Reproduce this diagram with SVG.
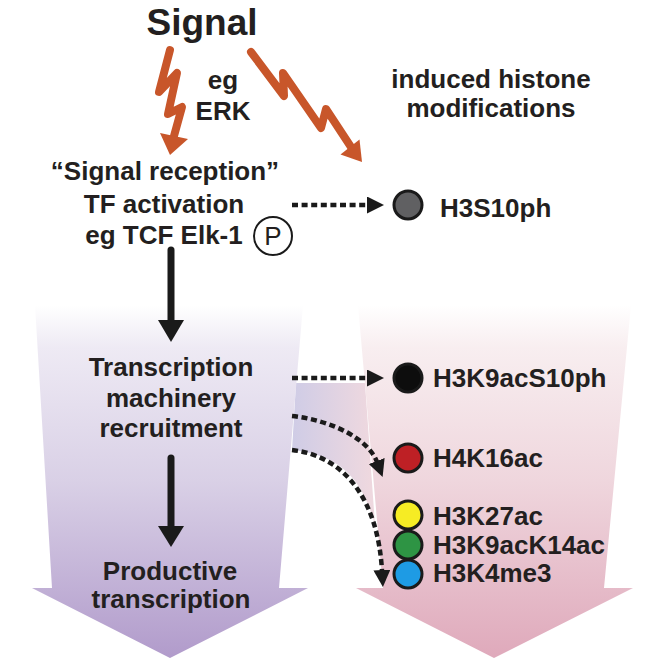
<svg xmlns="http://www.w3.org/2000/svg" width="664" height="664" viewBox="0 0 664 664">
<defs>
<style>
text{font-family:"Liberation Sans",Arial,sans-serif;font-weight:bold;fill:#231f20;}
.t26{font-size:26px;}
.mid{text-anchor:middle;}
.dash{fill:none;stroke:#1a1a1a;stroke-width:4.5;stroke-dasharray:6 3.6;}
.solid{fill:none;stroke:#1a1a1a;stroke-width:7;stroke-linecap:round;}
.bolt{fill:none;stroke:#c8562a;stroke-width:8;stroke-linejoin:round;stroke-linecap:round;}
.mod{stroke:#1a1a1a;stroke-width:3;}
</style>
<linearGradient id="gLeft" gradientUnits="userSpaceOnUse" x1="0" y1="305" x2="0" y2="658">
<stop offset="0" stop-color="#ffffff"/>
<stop offset="0.12" stop-color="#eeeaf4"/>
<stop offset="0.5" stop-color="#d9d0e6"/>
<stop offset="1" stop-color="#b19bcb"/>
</linearGradient>
<linearGradient id="gRight" gradientUnits="userSpaceOnUse" x1="0" y1="305" x2="0" y2="658">
<stop offset="0" stop-color="#ffffff"/>
<stop offset="0.12" stop-color="#f8eef0"/>
<stop offset="0.5" stop-color="#efd6dd"/>
<stop offset="1" stop-color="#dfa9bb"/>
</linearGradient>
<linearGradient id="gBand" gradientUnits="userSpaceOnUse" x1="292" y1="0" x2="370" y2="0">
<stop offset="0" stop-color="#cfcce6"/>
<stop offset="1" stop-color="#eed8df"/>
</linearGradient>
<marker id="ah" markerUnits="userSpaceOnUse" viewBox="0 0 17 17" refX="1" refY="8.5" markerWidth="17" markerHeight="17" orient="auto">
<path d="M0,0 L17,8.5 L0,17 Z" fill="#1a1a1a"/>
</marker>
</defs>

<g id="backgrounds">
<path d="M296,383 L365,383 L375,525 C362,478 340,455 292,450 Z" fill="url(#gBand)"/>
<polygon points="35,305 303,305 279,588 308,588 170,658 32,588 52,588" fill="url(#gLeft)"/>
<polygon points="358,305 631,305 604,588 633,588 494,658 356,588 383,588" fill="url(#gRight)"/>
</g>

<g id="signal">
<text x="202" y="35" class="mid" style="font-size:37px">Signal</text>
</g>

<g id="erk">
<text x="223" y="89" class="t26 mid">eg</text>
<text x="223" y="120" class="t26 mid">ERK</text>
</g>

<g id="induced-label">
<text x="491" y="88" class="t26 mid">induced histone</text>
<text x="491" y="117" class="t26 mid">modifications</text>
</g>

<g id="reception">
<text x="165" y="180" class="t26 mid">“Signal reception”</text>
<text x="164" y="213" class="t26 mid">TF activation</text>
<text x="164" y="244" class="t26 mid">eg TCF Elk-1</text>
<circle cx="273" cy="236" r="19" fill="#ffffff" stroke="#1a1a1a" stroke-width="2"/>
<text x="273" y="245" class="mid" style="font-size:26px;font-weight:normal">P</text>
</g>

<g id="recruitment">
<text x="171" y="376" class="t26 mid">Transcription</text>
<text x="171" y="407" class="t26 mid">machinery</text>
<text x="171" y="437" class="t26 mid">recruitment</text>
</g>

<g id="productive">
<text x="170" y="580" class="t26 mid">Productive</text>
<text x="171" y="608" class="t26 mid">transcription</text>
</g>

<g id="h3s10ph">
<circle cx="408" cy="205" r="14" fill="#606062" class="mod"/>
<text x="440" y="217" class="t26">H3S10ph</text>
</g>
<g id="h3k9acs10ph">
<circle cx="408" cy="378" r="14" fill="#0d0d0d" class="mod"/>
<text x="433" y="387" class="t26">H3K9acS10ph</text>
</g>
<g id="h4k16ac">
<circle cx="408" cy="458" r="14" fill="#be2025" class="mod"/>
<text x="433" y="467" class="t26">H4K16ac</text>
</g>
<g id="h3k27ac">
<circle cx="408" cy="515" r="14" fill="#f6ec24" class="mod"/>
<text x="433" y="525" class="t26">H3K27ac</text>
</g>
<g id="h3k9ack14ac">
<circle cx="408" cy="545" r="14" fill="#2e9444" class="mod"/>
<text x="433" y="554" class="t26">H3K9acK14ac</text>
</g>
<g id="h3k4me3">
<circle cx="408" cy="574" r="14" fill="#1e9be4" class="mod"/>
<text x="433" y="582" class="t26">H3K4me3</text>
</g>

<g id="connectors">
<polyline class="bolt" points="170,50 159,92 177,73 168,114 182,107 174,136"/>
<polygon points="160,133 188,139 170,155" fill="#c8562a"/>
<polyline class="bolt" points="251,52 284,96 283,73 321,128 326,109 351,147"/>
<polygon points="340.5,154.5 359.5,139.5 362,162" fill="#c8562a"/>
<line x1="292" y1="205" x2="368" y2="205" class="dash" marker-end="url(#ah)"/>
<line x1="171" y1="250" x2="171" y2="322" class="solid"/>
<polygon points="158,320 184,320 171,342" fill="#1a1a1a"/>
<line x1="171" y1="458" x2="171" y2="528" class="solid"/>
<polygon points="158,526 184,526 171,547" fill="#1a1a1a"/>
<line x1="292" y1="378" x2="368" y2="378" class="dash" marker-end="url(#ah)"/>
<path d="M292,416 C330,420 368,438 377,462" class="dash" marker-end="url(#ah)"/>
<path d="M292,450 C345,456 378,500 382,571" class="dash" marker-end="url(#ah)"/>
</g>
</svg>
